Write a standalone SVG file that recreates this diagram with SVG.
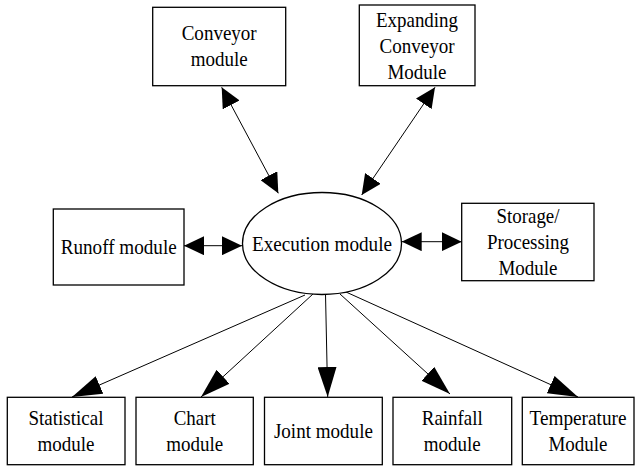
<svg xmlns="http://www.w3.org/2000/svg" width="636" height="467" viewBox="0 0 636 467">
<style>
.box{fill:#fff;stroke:#000;stroke-width:1.3}
text{font-family:'Liberation Serif','Times New Roman',serif;font-size:21px;fill:#000;text-anchor:middle}
.c{stroke:#000;stroke-width:1;fill:none}
.s{marker-end:url(#ms);marker-start:url(#ms)}
.b{marker-end:url(#mb)}
</style>
<defs>
<marker id="ms" markerUnits="userSpaceOnUse" markerWidth="20" markerHeight="19" refX="20" refY="9.5" orient="auto-start-reverse"><path d="M0,0 L20,9.5 L0,19 z" fill="#000"/></marker>
<marker id="mb" markerUnits="userSpaceOnUse" markerWidth="30" markerHeight="19" refX="30" refY="9.5" orient="auto"><path d="M0,0 L30,9.5 L0,19 z" fill="#000"/></marker>
</defs>
<rect width="636" height="467" fill="#fff"/>
<g id="connectors">
<line class="c s" x1="221.7" y1="87.3" x2="278.3" y2="193.3"/>
<line class="c s" x1="435" y1="87.3" x2="361.7" y2="195"/>
<line class="c s" x1="184" y1="245.7" x2="242" y2="245.7"/>
<line class="c s" x1="401.7" y1="241.7" x2="461.7" y2="241.7"/>
<line class="c b" x1="305" y1="295" x2="72" y2="397"/>
<line class="c b" x1="313" y1="294" x2="201" y2="397"/>
<line class="c b" x1="325.5" y1="294" x2="327.7" y2="397"/>
<line class="c b" x1="340" y1="294" x2="450" y2="394"/>
<line class="c b" x1="346" y1="292" x2="578" y2="397"/>
</g>
<g id="conveyor"><rect class="box" x="152.7" y="7.3" width="133" height="78.4"/><text x="219.2" y="40" textLength="75" lengthAdjust="spacingAndGlyphs">Conveyor</text><text x="219.2" y="66" textLength="57" lengthAdjust="spacingAndGlyphs">module</text></g>
<g id="expanding"><rect class="box" x="359.3" y="5" width="115.7" height="80.7"/><text x="417" y="27" textLength="82" lengthAdjust="spacingAndGlyphs">Expanding</text><text x="417" y="53" textLength="75" lengthAdjust="spacingAndGlyphs">Conveyor</text><text x="417" y="79" textLength="59" lengthAdjust="spacingAndGlyphs">Module</text></g>
<g id="runoff"><rect class="box" x="53.3" y="209" width="130.7" height="76"/><text x="118.7" y="254" textLength="116" lengthAdjust="spacingAndGlyphs">Runoff module</text></g>
<g id="execution"><ellipse class="box" cx="322" cy="243.5" rx="79.5" ry="51"/><text x="322" y="250.5" textLength="140" lengthAdjust="spacingAndGlyphs">Execution module</text></g>
<g id="storage"><rect class="box" x="461.7" y="203.3" width="132.3" height="77.4"/><text x="528" y="222.5" textLength="63" lengthAdjust="spacingAndGlyphs">Storage/</text><text x="528" y="248.5" textLength="82" lengthAdjust="spacingAndGlyphs">Processing</text><text x="528" y="274.5" textLength="59" lengthAdjust="spacingAndGlyphs">Module</text></g>
<g id="statistical"><rect class="box" x="7.3" y="397.3" width="117.7" height="67.4"/><text x="66" y="425" textLength="75" lengthAdjust="spacingAndGlyphs">Statistical</text><text x="66" y="451" textLength="57" lengthAdjust="spacingAndGlyphs">module</text></g>
<g id="chart"><rect class="box" x="136" y="397.3" width="117.3" height="67.4"/><text x="194.7" y="425" textLength="42" lengthAdjust="spacingAndGlyphs">Chart</text><text x="194.7" y="451" textLength="57" lengthAdjust="spacingAndGlyphs">module</text></g>
<g id="joint"><rect class="box" x="264.5" y="397.3" width="117.8" height="67.4"/><text x="323.4" y="438" textLength="99" lengthAdjust="spacingAndGlyphs">Joint module</text></g>
<g id="rainfall"><rect class="box" x="393" y="397.3" width="118.7" height="67.4"/><text x="452.3" y="425" textLength="61" lengthAdjust="spacingAndGlyphs">Rainfall</text><text x="452.3" y="451" textLength="57" lengthAdjust="spacingAndGlyphs">module</text></g>
<g id="temperature"><rect class="box" x="522.3" y="397.3" width="111.7" height="67.4"/><text x="578" y="425" textLength="97" lengthAdjust="spacingAndGlyphs">Temperature</text><text x="578" y="451" textLength="59" lengthAdjust="spacingAndGlyphs">Module</text></g>
</svg>
